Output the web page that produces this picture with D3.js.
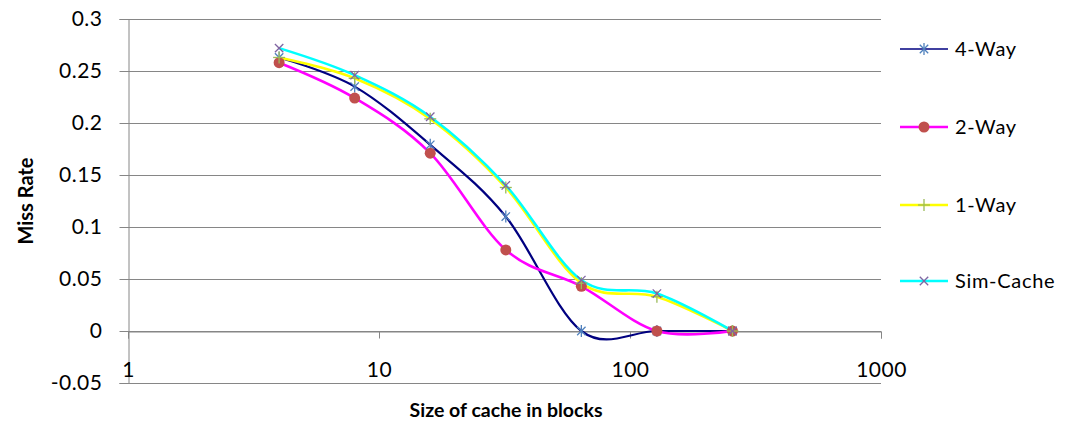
<!DOCTYPE html>
<html>
<head>
<meta charset="utf-8">
<script src="https://cdn.jsdelivr.net/npm/d3@7"></script>
<style>
  body { margin: 0; background: #fff; }
  svg text { font-family: Lato, "Open Sans", sans-serif; fill: #000; }
</style>
</head>
<body>
<div id="chart"></div>
<script>
// cache sizes (blocks) and miss rates
const sizes = [4, 8, 16, 32, 64, 128, 256]
const fourWay = [0.263, 0.235, 0.179, 0.110, 0.000, 0.000, 0.000]
const twoWay = [0.258, 0.224, 0.171, 0.078, 0.043, 0.000, 0.000]
const oneWay = [0.263, 0.243, 0.204, 0.138, 0.046, 0.033, 0.000]
const simCache = [0.272, 0.246, 0.206, 0.140, 0.049, 0.036, 0.000]
const yTicks = [-0.05, 0, 0.05, 0.1, 0.15, 0.2, 0.25, 0.3]
const xTicks = [1, 10, 100, 1000]

const series = [
  { name: '4-Way', values: fourWay, line: '#000080', mark: '#4F81BD', shape: 'star' },
  { name: '2-Way', values: twoWay, line: '#FF00FF', mark: '#C0504D', shape: 'dot' },
  { name: '1-Way', values: oneWay, line: '#FFFF00', mark: '#9BBB59', shape: 'plus' },
  { name: 'Sim-Cache', values: simCache, line: '#00FFFF', mark: '#8064A2', shape: 'cross' }
]

const width = 1067
const height = 424
const plotLeft = 128, plotRight = 881, plotTop = 19, plotBottom = 383

const svg = d3.select('#chart')
  .append('svg')
  .attr('width', width)
  .attr('height', height)

const x = d3.scaleLog().domain([1, 1000]).range([plotLeft, plotRight])
const y = d3.scaleLinear().domain([-0.05, 0.3]).range([plotBottom, plotTop])

// horizontal gridlines
svg.append('g')
  .selectAll('line')
  .data(yTicks)
  .enter()
  .append('line')
  .attr('x1', plotLeft)
  .attr('x2', plotRight)
  .attr('y1', d => Math.round(y(d)) + 0.5)
  .attr('y2', d => Math.round(y(d)) + 0.5)
  .style('stroke', '#868686')
  .style('stroke-width', 1)

// y axis
const yAxis = svg.append('g')
  .attr('transform', `translate(${plotLeft + 0.5},0)`)
  .call(d3.axisLeft(y).tickValues(yTicks).tickFormat(d => String(+d.toFixed(2))).tickSize(9).tickPadding(17))
yAxis.select('.domain').attr('stroke', '#868686')
yAxis.selectAll('.tick line').attr('stroke', '#868686')
yAxis.selectAll('.tick').attr('transform', d => `translate(0,${Math.round(y(d)) + 0.5})`)
yAxis.selectAll('text').style('font-size', '21px').style('letter-spacing', '0.5px')

// x axis crosses at zero, labels sit low
const zeroY = Math.round(y(0)) + 0.5
const xAxis = svg.append('g')
  .attr('transform', `translate(0,${zeroY})`)
  .call(d3.axisBottom(x).tickValues(xTicks).tickFormat(d3.format('d')).tickSize(7))
xAxis.select('.domain').attr('stroke', '#868686')
xAxis.selectAll('.tick line').attr('stroke', '#868686')
xAxis.selectAll('text')
  .attr('y', 31)
  .style('font-size', '21px')
  .style('letter-spacing', '0.5px')

// curves
const line = d3.line()
  .x(d => x(d[0]))
  .y(d => y(d[1]))
  .curve(d3.curveCardinal.tension(0))

series.forEach(s => {
  const pts = sizes.map((v, i) => [v, s.values[i]])
  svg.append('path')
    .datum(pts)
    .attr('d', line)
    .style('fill', 'none')
    .style('stroke', s.line)
    .style('stroke-width', s.shape === 'star' ? 2.2 : 2.6)
})

function drawMarker(g, shape, colour, cx, cy) {
  if (shape === 'dot') {
    g.append('circle').attr('cx', cx).attr('cy', cy).attr('r', 5.5).style('fill', colour)
    return
  }
  const r = 6
  let segs = []
  if (shape === 'plus') segs = [[0, -r, 0, r], [-r, 0, r, 0]]
  if (shape === 'cross') segs = [[-r * 0.7, -r * 0.7, r * 0.7, r * 0.7], [-r * 0.7, r * 0.7, r * 0.7, -r * 0.7]]
  if (shape === 'star') segs = [[0, -r, 0, r], [-r * 0.7, -r * 0.7, r * 0.7, r * 0.7], [-r * 0.7, r * 0.7, r * 0.7, -r * 0.7]]
  segs.forEach(s => {
    g.append('line')
      .attr('x1', cx + s[0]).attr('y1', cy + s[1])
      .attr('x2', cx + s[2]).attr('y2', cy + s[3])
      .style('stroke', colour)
      .style('stroke-width', 1.3)
  })
}

// markers on top
series.forEach(s => {
  const g = svg.append('g')
  sizes.forEach((v, i) => drawMarker(g, s.shape, s.mark, x(v), y(s.values[i])))
})

// legend
const legendY = [49, 127, 205, 281]
series.forEach((s, i) => {
  const g = svg.append('g')
  g.append('line')
    .attr('x1', 900).attr('x2', 948)
    .attr('y1', legendY[i]).attr('y2', legendY[i])
    .style('stroke', s.line)
    .style('stroke-width', s.shape === 'star' ? 1.5 : 2.5)
  drawMarker(g, s.shape, s.mark, 924, legendY[i])
  g.append('text')
    .attr('x', 955)
    .attr('y', legendY[i] + 7)
    .style('font-size', '20px')
    .style('letter-spacing', '0.7px')
    .text(s.name)
})

// axis titles
svg.append('text')
  .attr('transform', 'translate(33,201) rotate(-90)')
  .attr('text-anchor', 'middle')
  .style('font-size', '20px')
  .style('font-weight', 'bold')
  .text('Miss Rate')

svg.append('text')
  .attr('x', 506)
  .attr('y', 417)
  .attr('text-anchor', 'middle')
  .style('font-size', '19.5px')
  .style('font-weight', 'bold')
  .text('Size of cache in blocks')
</script>
</body>
</html>
